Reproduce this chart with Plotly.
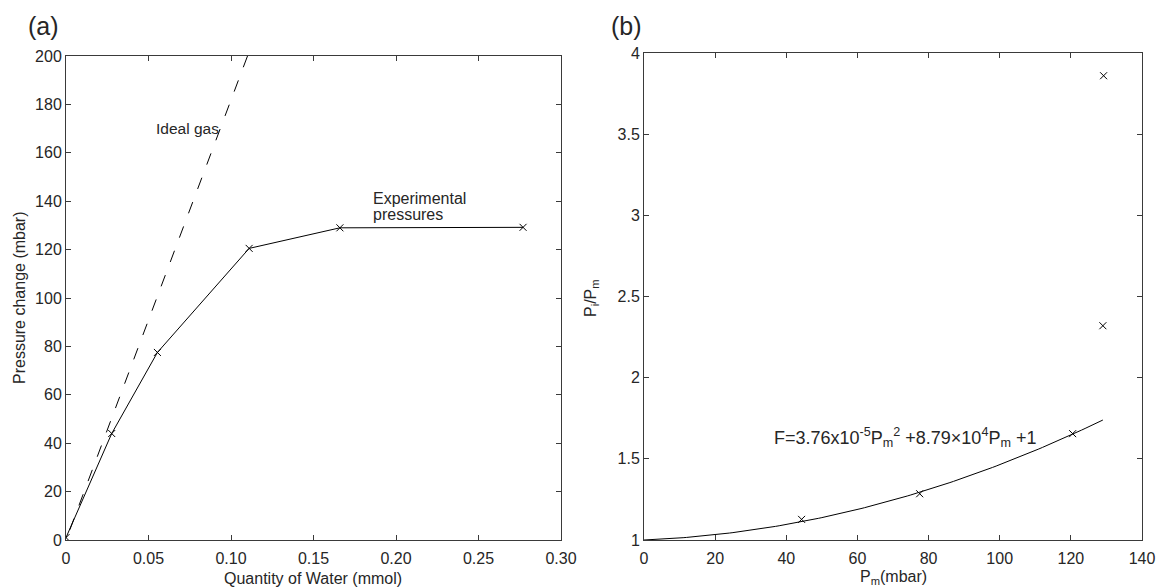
import numpy as np
import plotly.graph_objects as go

# Panel (a): pressure change vs. quantity of water
water_mmol = [0, 0.0277, 0.0554, 0.111, 0.166, 0.277]
pressure_change = [1, 44, 77.5, 120.5, 129, 129.2]
# ideal-gas line, listed from its top end so the dash pattern starts there
ideal_water = [0.11, 0]
ideal_pressure = [200, 0]

# Panel (b): ratio of ideal to measured pressure vs. measured pressure
pm_fit_points = [44.3, 77.5, 120.5]
ratio_fit_points = [1.127, 1.285, 1.655]
pm_outliers = [129, 129.2]
ratio_outliers = [2.32, 3.86]
fit_coeffs = [3.76e-5, 8.79e-4, 1.0]
fit_pm = np.linspace(0, 129, 130)
fit_ratio = np.polyval(fit_coeffs, fit_pm)

a_xticks = [0, 0.05, 0.10, 0.15, 0.20, 0.25, 0.30]
a_xticktext = ["0", "0.05", "0.10", "0.15", "0.20", "0.25", "0.30"]
a_yticks = list(range(0, 201, 20))
b_xticks = list(range(0, 141, 20))
b_yticks = [1, 1.5, 2, 2.5, 3, 3.5, 4]
b_yticktext = ["1", "1.5", "2", "2.5", "3", "3.5", "4"]

W, H = 1157, 588
FONT = "Liberation Sans, Arial, Helvetica, sans-serif"
TXT = "#262626"
AX = "#3a3a3a"

fig = go.Figure()

fig.add_trace(go.Scatter(x=ideal_water, y=ideal_pressure, mode="lines",
                         line=dict(color="black", width=1, dash="12px,14px"),
                         xaxis="x", yaxis="y", showlegend=False))
fig.add_trace(go.Scatter(x=water_mmol, y=pressure_change, mode="lines+markers",
                         line=dict(color="black", width=1),
                         marker=dict(symbol="x-thin", size=7,
                                     line=dict(color="black", width=1)),
                         xaxis="x", yaxis="y", showlegend=False))

fig.add_trace(go.Scatter(x=fit_pm, y=fit_ratio, mode="lines",
                         line=dict(color="black", width=1),
                         xaxis="x2", yaxis="y2", showlegend=False))
fig.add_trace(go.Scatter(x=pm_fit_points + pm_outliers,
                         y=ratio_fit_points + ratio_outliers, mode="markers",
                         marker=dict(symbol="x-thin", size=7,
                                     line=dict(color="black", width=1)),
                         xaxis="x2", yaxis="y2", showlegend=False))


def px_x(p):
    return p / W


def px_y(p):
    return 1 - p / H


axis_common = dict(showgrid=False, zeroline=False, showline=True, linecolor=AX,
                   linewidth=1, mirror="ticks", ticks="inside", ticklen=5,
                   tickcolor=AX, tickwidth=1, automargin=False,
                   tickfont=dict(family=FONT, size=16, color=TXT))

fig.update_layout(
    width=W, height=H,
    margin=dict(l=0, r=0, t=0, b=0),
    paper_bgcolor="white", plot_bgcolor="white",
    xaxis=dict(domain=[px_x(66), px_x(561)], range=[0, 0.30], anchor="y",
               tickvals=a_xticks, ticktext=a_xticktext, ticklabelstandoff=4,
               **axis_common),
    yaxis=dict(domain=[px_y(540), px_y(56)], range=[0, 200], anchor="x",
               tickvals=a_yticks, **axis_common),
    xaxis2=dict(domain=[px_x(644), px_x(1142)], range=[0, 140], anchor="y2",
                tickvals=b_xticks, ticklabelstandoff=4, **axis_common),
    yaxis2=dict(domain=[px_y(540), px_y(53)], range=[1, 4], anchor="x2",
                tickvals=b_yticks, ticktext=b_yticktext, **axis_common),
)


def note(text, x, y, size=16, xanchor="center", yanchor="middle", angle=0,
         align="center"):
    fig.add_annotation(text=text, x=px_x(x), y=px_y(y), xref="paper", yref="paper",
                       showarrow=False, xanchor=xanchor, yanchor=yanchor,
                       textangle=angle, align=align,
                       font=dict(family=FONT, size=size, color=TXT))


note("(a)", 43, 26, size=25)
note("(b)", 626, 26, size=25)
note("Quantity of Water (mmol)", 313, 578)
note("Pressure change (mbar)", 19, 298, angle=-90)
note("P<sub>m</sub>(mbar)", 893, 577)
note("P<sub>i</sub>/P<sub>m</sub>", 591, 298, angle=-90)
note("Ideal gas", 154, 129, size=15.5, xanchor="left")
note("Experimental", 371, 198, size=16, xanchor="left")
note("pressures", 371, 214, size=16, xanchor="left")
note("F=3.76x10<sup>-5</sup>P<sub>m</sub><sup>2</sup> +8.79×10<sup>4</sup>P<sub>m</sub> +1",
     772, 437, size=18, xanchor="left")

fig.write_html("out.html")
